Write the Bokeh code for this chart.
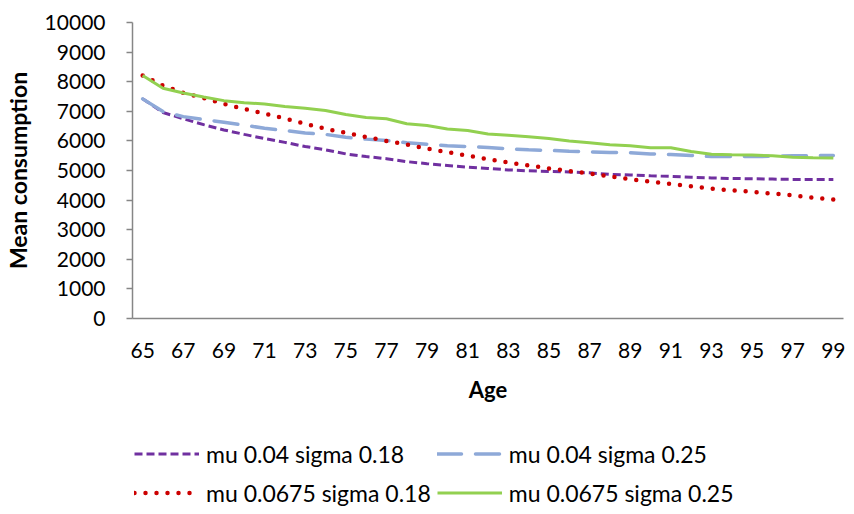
from bokeh.plotting import figure
from bokeh.layouts import column
from bokeh.models import Range1d, FixedTicker, Legend, LegendItem, NumeralTickFormatter
from bokeh.embed import file_html
from bokeh.resources import INLINE

ages = list(range(65, 100))
x_tick_labels = ages[::2]
y_ticks = [0, 1000, 2000, 3000, 4000, 5000, 6000, 7000, 8000, 9000, 10000]

mu004_s018 = [7420, 6960, 6750, 6550, 6370, 6220, 6080, 5950, 5810, 5700,
              5560, 5470, 5400, 5300, 5230, 5170, 5110, 5070, 5020, 4990,
              4970, 4950, 4920, 4870, 4850, 4820, 4800, 4770, 4750, 4730,
              4720, 4710, 4700, 4700, 4700]
mu004_s025 = [7420, 6990, 6820, 6720, 6630, 6530, 6430, 6350, 6270, 6220,
              6120, 6060, 6010, 5940, 5890, 5840, 5810, 5780, 5730, 5700,
              5680, 5650, 5630, 5610, 5600, 5560, 5540, 5510, 5470, 5470,
              5470, 5480, 5500, 5500, 5510]
mu0675_s018 = [8210, 7870, 7620, 7450, 7250, 7080, 6920, 6760, 6580, 6410,
               6270, 6130, 6000, 5880, 5740, 5620, 5500, 5380, 5270, 5170,
               5070, 4980, 4900, 4800, 4710, 4620, 4550, 4470, 4390, 4330,
               4280, 4220, 4160, 4080, 4020]
mu0675_s025 = [8210, 7780, 7620, 7480, 7360, 7290, 7250, 7160, 7100, 7030,
               6890, 6790, 6750, 6580, 6520, 6400, 6350, 6230, 6190, 6140,
               6080, 6000, 5940, 5870, 5840, 5770, 5770, 5640, 5550, 5530,
               5520, 5500, 5450, 5430, 5420]

series_names = ["mu 0.04 sigma 0.18", "mu 0.04 sigma 0.25",
                "mu 0.0675 sigma 0.18", "mu 0.0675 sigma 0.25"]
series_values = [mu004_s018, mu004_s025, mu0675_s018, mu0675_s025]

styles = [
    dict(line_color="#7030A0", line_width=3, line_dash="8 4"),
    dict(line_color="#8EA9D8", line_width=3.5, line_dash="24 14", line_cap="round"),
    dict(line_color="#CC0000", line_width=4.5, line_dash="0 11", line_cap="round"),
    dict(line_color="#92D050", line_width=3),
]

FONT = "Lato"

# ---------------- main chart ----------------
p = figure(width=846, height=412, output_backend="svg", toolbar_location=None,
           x_range=Range1d(64.5, 99.5), y_range=Range1d(0, 10000),
           min_border_left=128, min_border_right=3, min_border_top=22,
           min_border_bottom=94)
p.outline_line_color = None
p.xgrid.grid_line_color = None
p.ygrid.grid_line_color = None
p.background_fill_color = "white"
p.border_fill_color = "white"

for vals, st in zip(series_values, styles):
    p.line(ages, vals, **st)

xa = p.xaxis[0]
xa.ticker = FixedTicker(ticks=x_tick_labels)
xa.major_tick_out = 0
xa.major_tick_in = 0
xa.minor_tick_out = 0
xa.minor_tick_in = 0
xa.axis_line_color = "#868686"
xa.axis_line_width = 1.5
xa.major_label_text_font = FONT
xa.major_label_text_font_size = "21px"
xa.major_label_text_color = "black"
xa.major_label_standoff = 24
xa.axis_label = "Age"
xa.axis_label_text_font = FONT
xa.axis_label_text_font_size = "22px"
xa.axis_label_text_font_style = "bold"
xa.axis_label_text_color = "black"
xa.axis_label_standoff = 15

ya = p.yaxis[0]
ya.ticker = FixedTicker(ticks=y_ticks)
ya.formatter = NumeralTickFormatter(format="0")
ya.major_tick_out = 6
ya.major_tick_in = 0
ya.minor_tick_out = 0
ya.minor_tick_in = 0
ya.major_tick_line_color = "#868686"
ya.major_tick_line_width = 1.5
ya.axis_line_color = "#868686"
ya.axis_line_width = 1.5
ya.major_label_text_font = FONT
ya.major_label_text_font_size = "21px"
ya.major_label_text_color = "black"
ya.major_label_standoff = 21
ya.axis_label = "Mean consumption"
ya.axis_label_text_font = FONT
ya.axis_label_text_font_size = "23px"
ya.axis_label_text_font_style = "bold"
ya.axis_label_text_color = "black"
ya.axis_label_standoff = 10

# ---------------- legend strip (frame aligned with the chart's frame) ----------------
pl = figure(width=846, height=94, output_backend="svg", toolbar_location=None,
            x_range=Range1d(0, 1), y_range=Range1d(0, 1),
            x_axis_type=None, y_axis_type=None,
            min_border_left=0, min_border_right=0, min_border_top=0,
            min_border_bottom=0)
pl.outline_line_color = None
pl.background_fill_color = "white"
pl.border_fill_color = "white"

legend_renderers = [pl.line(ages, vals, **st) for vals, st in zip(series_values, styles)]

legend = Legend(
    items=[LegendItem(label=n, renderers=[r]) for n, r in zip(series_names, legend_renderers)],
    orientation="horizontal", nrows=2,
    location=(0, -5), margin=0, padding=2, spacing=6,
    glyph_width=65, glyph_height=33, label_standoff=7, label_width=222,
    label_text_font=FONT, label_text_font_size="23px", label_text_color="black",
    border_line_alpha=0, background_fill_alpha=0,
)
pl.add_layout(legend, "center")

open("out.html", "w").write(file_html(column(p, pl), INLINE))
